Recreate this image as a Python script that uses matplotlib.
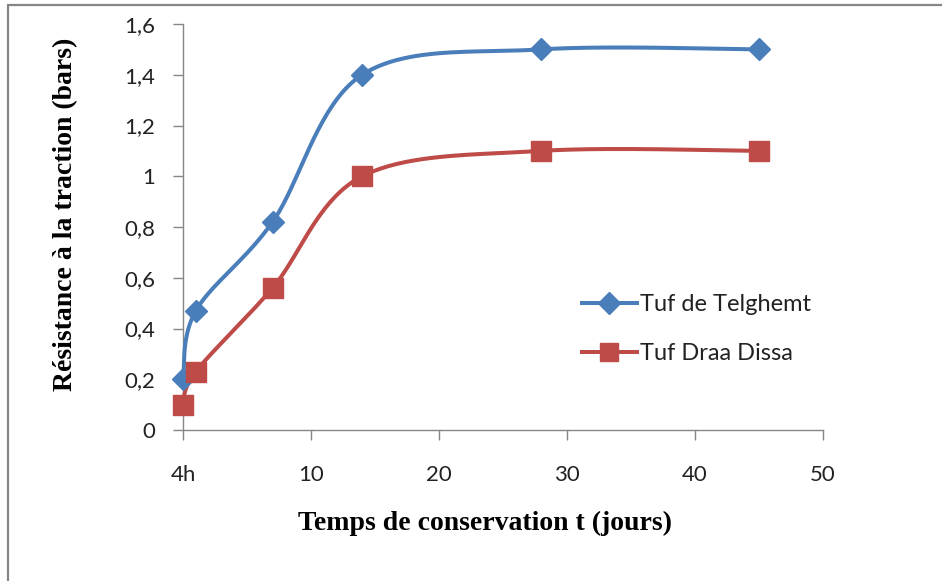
import numpy as np
import matplotlib
matplotlib.use("Agg")
import matplotlib.pyplot as plt
from matplotlib.patches import Rectangle

# ---- data ----
days = [0, 1, 7, 14, 28, 45]
telghemt = [0.20, 0.47, 0.82, 1.40, 1.50, 1.50]
draa_dissa = [0.10, 0.23, 0.56, 1.00, 1.10, 1.10]
x_ticks = [0, 10, 20, 30, 40, 50]
x_ticklabels = ["4h", "10", "20", "30", "40", "50"]
y_ticks = [0, 0.2, 0.4, 0.6, 0.8, 1.0, 1.2, 1.4, 1.6]
y_ticklabels = ["0", "0,2", "0,4", "0,6", "0,8", "1", "1,2", "1,4", "1,6"]
series_names = ["Tuf de Telghemt", "Tuf Draa Dissa"]

BLUE = "#4A7EBB"
RED = "#BE4B48"
GRAY = "#868686"
LW = 2.9

W, H = 942, 581
fig = plt.figure(figsize=(W / 100, H / 100), dpi=100)
fig.patch.set_facecolor("white")

# chart-area border (top and left visible, rest cut off)
fig.add_artist(Rectangle((8 / W, -0.05), 1.2, 1 - 5.5 / H + 0.05,
                         transform=fig.transFigure, fill=False,
                         edgecolor=GRAY, linewidth=1.6))

ax = fig.add_axes([183 / W, 1 - 430 / H, (823 - 183) / W, (430 - 24) / H])
ax.set_xlim(0, 50)
ax.set_ylim(0, 1.6)
for s in ["top", "right"]:
    ax.spines[s].set_visible(False)
for s in ["left", "bottom"]:
    ax.spines[s].set_color(GRAY)
    ax.spines[s].set_linewidth(1.0)

ax.set_xticks(x_ticks)
ax.set_xticklabels(x_ticklabels)
ax.set_yticks(y_ticks)
ax.set_yticklabels(y_ticklabels)
ax.tick_params(axis="x", direction="out", length=7, width=1, color=GRAY,
               pad=18, labelsize=16, labelcolor="#222222")
ax.tick_params(axis="y", direction="out", length=7, width=1, color=GRAY,
               pad=13, labelsize=16, labelcolor="#222222")
for lab in ax.get_xticklabels() + ax.get_yticklabels():
    lab.set_family("Lato")


def excel_smooth(ax, xs, ys, n=40):
    pts = ax.transData.transform(np.column_stack([xs, ys]))
    out = [pts[0]]
    m = len(pts)
    for i in range(m - 1):
        p0 = pts[i - 1] if i > 0 else pts[i]
        p1 = pts[i]
        p2 = pts[i + 1]
        p3 = pts[i + 2] if i + 2 < m else pts[i + 1]
        c1 = p1 + (p2 - p0) / 6.0
        c2 = p2 - (p3 - p1) / 6.0
        t = np.linspace(0, 1, n)[1:, None]
        seg = ((1 - t) ** 3) * p1 + 3 * ((1 - t) ** 2) * t * c1 \
            + 3 * (1 - t) * t ** 2 * c2 + t ** 3 * p2
        out.extend(seg)
    out = np.array(out)
    d = ax.transData.inverted().transform(out)
    return d[:, 0], d[:, 1]


sx, sy = excel_smooth(ax, days, telghemt)
ax.plot(sx, sy, color=BLUE, lw=LW, solid_capstyle="round", clip_on=False, zorder=3)
ax.plot(days, telghemt, linestyle="none", marker="D", ms=11.5, color=BLUE,
        clip_on=False, zorder=4)
sx, sy = excel_smooth(ax, days, draa_dissa)
ax.plot(sx, sy, color=RED, lw=LW, solid_capstyle="round", clip_on=False, zorder=3)
ax.plot(days, draa_dissa, linestyle="none", marker="s", ms=14.5, color=RED,
        clip_on=False, zorder=4)

# legend proxies
h1, = ax.plot([], [], color=BLUE, lw=LW, marker="D", ms=11)
h2, = ax.plot([], [], color=RED, lw=LW, marker="s", ms=13.5)
leg = fig.legend([h1, h2], series_names, loc="upper left",
                 bbox_to_anchor=(570 / W, 1 - 282 / H), frameon=False,
                 borderpad=0, handlelength=2.33, handletextpad=0.13,
                 labelspacing=1.2, prop={"family": "Lato", "size": 17})
for t in leg.get_texts():
    t.set_color("#222222")

fig.text(485 / W, 1 - 523 / H, "Temps de conservation t (jours)",
         ha="center", va="center", family="Liberation Serif",
         weight="bold", size=20)
fig.text(66 / W, 1 - 214 / H, "Résistance à la traction (bars)",
         ha="center", va="center", rotation=90, family="Liberation Serif",
         weight="bold", size=20)

fig.savefig("out.png", dpi=100, facecolor="white")
